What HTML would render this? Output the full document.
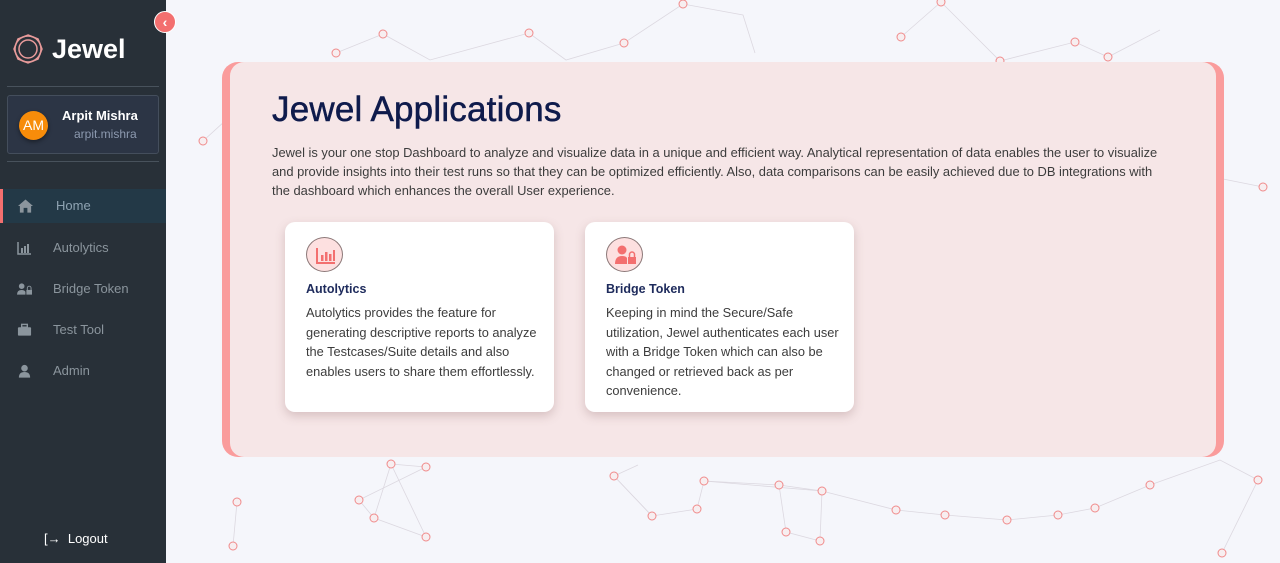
<!DOCTYPE html>
<html><head><meta charset="utf-8"><style>
*{margin:0;padding:0;box-sizing:border-box}
body{width:1280px;height:563px;overflow:hidden;background:#f5f6fb;font-family:"Liberation Sans",sans-serif;position:relative}
#bg{position:absolute;left:0;top:0}
.side{position:absolute;left:0;top:0;width:166px;height:563px;background:#283038}
.logo{position:absolute;left:12px;top:33px;display:flex;align-items:center}
.logo span{color:#fff;font-weight:bold;font-size:27px;margin-left:8px}
.hr{position:absolute;left:7px;width:152px;height:1px;background:#48525c}
.user{position:absolute;left:7px;top:95px;width:152px;height:59px;background:#2c3545;border:1px solid #444e5c;border-radius:3px}
.av{position:absolute;left:11px;top:15px;width:29px;height:29px;border-radius:50%;background:#f78c0a;color:#fff;font-size:14px;text-align:center;line-height:29px;box-shadow:0 2px 4px rgba(0,0,0,.4)}
.un{position:absolute;left:54px;top:12px;color:#fff;font-weight:bold;font-size:13px}
.uh{position:absolute;left:66px;top:31px;color:#8d9ab0;font-size:12px}
.nav{position:absolute;left:0;width:166px;height:34px;color:#8b959d;font-size:13px;line-height:34px}
.nav.act{background:#233947;border-left:3px solid #f36f6f;color:#8fa3b2}
.nav .ic{position:absolute;left:17px;top:10px;width:15px;height:14px}
.nav .t{position:absolute;left:53px}
.tog{position:absolute;left:154px;top:11px;width:22px;height:22px;border-radius:50%;background:#f36f6f;color:#fff;font-size:14px;text-align:center;line-height:21px;font-weight:bold;border:1px solid #fff}
.logout{position:absolute;left:44px;top:531px;color:#fff;font-size:13px}
.panel{position:absolute;left:222px;top:62px;width:1002px;height:395px;background:#fa9c9c;border-radius:16px}
.inner{position:absolute;left:8px;top:0;width:986px;height:395px;background:#f6e6e7;border-radius:14px}
h1{position:absolute;left:42px;top:28px;font-size:35px;font-weight:normal;color:#0f1b4c;letter-spacing:.2px;-webkit-text-stroke:0.5px #0f1b4c}
.desc{position:absolute;left:42px;top:81px;width:900px;font-size:12.9px;line-height:19px;color:#3c3c3c}
.card{position:absolute;top:160px;width:269px;height:190px;background:#fff;border-radius:10px;box-shadow:0 4px 10px rgba(120,80,80,.25)}
.ci{position:absolute;left:21px;top:15px;width:37px;height:35px;border-radius:50%;background:#fde0e0;border:1px solid #8c7878}
.ct{position:absolute;left:21px;top:60px;font-size:12.5px;color:#1e2b5c;font-weight:bold}
.cd{position:absolute;left:21px;top:81px;width:236px;font-size:12.8px;line-height:19.5px;color:#3c3c3c}
</style></head><body>
<svg id="bg" width="1280" height="563">
<g stroke="#dcd8e0" stroke-width="0.8" fill="none">
<polyline points="336,53 383,34 430,60 529,33 566,60 624,43 683,4 743,15 755,53"/>
<polyline points="901,37 941,2 1000,61 1075,42 1108,57 1160,30"/>
<polyline points="203,141 236,111"/>
<polyline points="1218,178 1263,187"/>
<polyline points="237,502 233,546"/>
<polyline points="391,464 426,467 359,500 374,518 426,537 391,464 374,518"/>
<polyline points="614,476 652,516 697,509 704,481 779,485 786,532 820,541 822,491 779,485"/>
<polyline points="652,516 614,476 638,465"/>
<polyline points="896,510 945,515 1007,520 1058,515 1095,508 1150,485 1220,460 1258,480"/>
<polyline points="1222,553 1258,480"/>
<polyline points="704,481 822,491 896,510"/>
</g>
<g stroke="#f08a8a" stroke-width="1" fill="#f7eef0">
<circle cx="336" cy="53" r="4"/><circle cx="383" cy="34" r="4"/><circle cx="529" cy="33" r="4"/><circle cx="624" cy="43" r="4"/><circle cx="683" cy="4" r="4"/><circle cx="901" cy="37" r="4"/><circle cx="941" cy="2" r="4"/><circle cx="1000" cy="61" r="4"/><circle cx="1075" cy="42" r="4"/><circle cx="1108" cy="57" r="4"/><circle cx="203" cy="141" r="4"/><circle cx="1263" cy="187" r="4"/><circle cx="237" cy="502" r="4"/><circle cx="233" cy="546" r="4"/><circle cx="391" cy="464" r="4"/><circle cx="426" cy="467" r="4"/><circle cx="359" cy="500" r="4"/><circle cx="374" cy="518" r="4"/><circle cx="426" cy="537" r="4"/><circle cx="614" cy="476" r="4"/><circle cx="652" cy="516" r="4"/><circle cx="697" cy="509" r="4"/><circle cx="704" cy="481" r="4"/><circle cx="779" cy="485" r="4"/><circle cx="786" cy="532" r="4"/><circle cx="820" cy="541" r="4"/><circle cx="822" cy="491" r="4"/><circle cx="896" cy="510" r="4"/><circle cx="945" cy="515" r="4"/><circle cx="1007" cy="520" r="4"/><circle cx="1058" cy="515" r="4"/><circle cx="1095" cy="508" r="4"/><circle cx="1150" cy="485" r="4"/><circle cx="1258" cy="480" r="4"/><circle cx="1222" cy="553" r="4"/>
</g></svg>
<div class="side">
<div class="logo"><svg width="32" height="32" viewBox="0 0 32 32"><g fill="none" stroke="#e79a9a" stroke-width="1.5"><circle cx="16" cy="16" r="13"/><circle cx="16" cy="16" r="9"/><polygon points="16,2 26,6 30,16 26,26 16,30 6,26 2,16 6,6"/></g></svg><span>Jewel</span></div>
<div class="hr" style="top:86px"></div>
<div class="user"><div class="av">AM</div><div class="un">Arpit Mishra</div><div class="uh">arpit.mishra</div></div>
<div class="hr" style="top:161px"></div>
<div class="nav act" style="top:189px"><svg class="ic" viewBox="0 0 16 14" style="left:15px"><path d="M8 0 L16 7 H14 V14 H10 V9 H6 V14 H2 V7 H0Z" fill="#8b959d"/></svg><span class="t">Home</span></div>
<div class="nav" style="top:231px"><svg class="ic" viewBox="0 0 15 14"><path d="M1 1V13H14" stroke="#8b959d" stroke-width="1.5" fill="none"/><rect x="4" y="7" width="2" height="5" fill="#8b959d"/><rect x="7" y="5" width="2" height="7" fill="#8b959d"/><rect x="10" y="3" width="2" height="9" fill="#8b959d"/></svg><span class="t">Autolytics</span></div>
<div class="nav" style="top:272px"><svg class="ic" viewBox="0 0 16 14"><circle cx="5" cy="4" r="3" fill="#8b959d"/><path d="M0 13 Q0 8 5 8 Q8 8 9 10 V13Z" fill="#8b959d"/><rect x="10" y="8" width="6" height="5" fill="#8b959d"/><path d="M11 8V6a2 2 0 0 1 4 0V8" stroke="#8b959d" fill="none"/></svg><span class="t">Bridge Token</span></div>
<div class="nav" style="top:313px"><svg class="ic" viewBox="0 0 16 14"><rect x="1" y="4" width="14" height="9" rx="1" fill="#8b959d"/><rect x="5" y="1" width="6" height="3" fill="none" stroke="#8b959d" stroke-width="1.5"/></svg><span class="t">Test Tool</span></div>
<div class="nav" style="top:354px"><svg class="ic" viewBox="0 0 16 14"><circle cx="8" cy="4" r="3.5" fill="#8b959d"/><path d="M2 14 Q2 8 8 8 Q14 8 14 14Z" fill="#8b959d"/></svg><span class="t">Admin</span></div>
<div class="logout">[&#8594;&nbsp;&nbsp;Logout</div>
</div>
<div class="tog">&#8249;</div>
<div class="panel"><div class="inner">
<h1>Jewel Applications</h1>
<div class="desc">Jewel is your one stop Dashboard to analyze and visualize data in a unique and efficient way. Analytical representation of data enables the user to visualize and provide insights into their test runs so that they can be optimized efficiently. Also, data comparisons can be easily achieved due to DB integrations with the dashboard which enhances the overall User experience.</div>
<div class="card" style="left:55px"><div class="ci"><svg width="37" height="35" viewBox="0 0 37 35"><path d="M10 10V25H28" stroke="#f36f6f" stroke-width="2" fill="none"/><rect x="14" y="17" width="2.5" height="6" fill="#f36f6f"/><rect x="18" y="14" width="2.5" height="9" fill="#f36f6f"/><rect x="22" y="16" width="2.5" height="7" fill="#f36f6f"/><rect x="26" y="12" width="2" height="11" fill="#f36f6f"/></svg></div><div class="ct">Autolytics</div><div class="cd">Autolytics provides the feature for generating descriptive reports to analyze the Testcases/Suite details and also enables users to share them effortlessly.</div></div>
<div class="card" style="left:355px"><div class="ci"><svg width="37" height="35" viewBox="0 0 37 35"><circle cx="15" cy="12" r="4.5" fill="#f36f6f"/><path d="M8 26 Q8 18 15 18 Q19 18 20 20 V26Z" fill="#f36f6f"/><rect x="21" y="19" width="8" height="7" fill="#f36f6f"/><path d="M22.5 19V16.5a2.5 2.5 0 0 1 5 0V19" stroke="#f36f6f" stroke-width="1.5" fill="none"/></svg></div><div class="ct">Bridge Token</div><div class="cd">Keeping in mind the Secure/Safe<br>utilization, Jewel authenticates each user with a Bridge Token which can also be changed or retrieved back as per convenience.</div></div>
</div></div>
</body></html>
